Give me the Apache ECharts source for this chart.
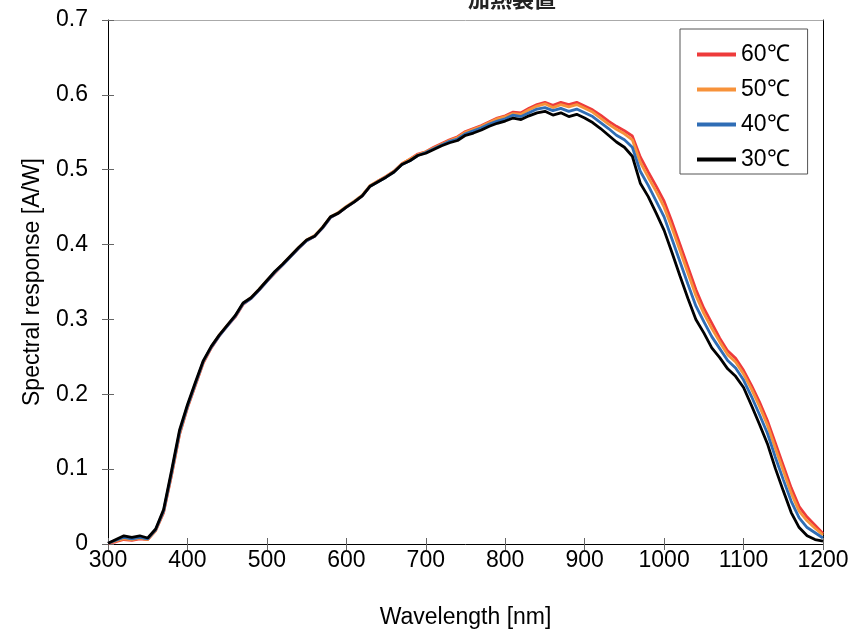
<!DOCTYPE html>
<html>
<head>
<meta charset="utf-8">
<script src="https://cdn.jsdelivr.net/npm/echarts@6/dist/echarts.min.js"></script>
<style>html,body{margin:0;padding:0;background:#fff}#c{width:860px;height:632px}</style>
</head>
<body>
<div id="c"></div>
<script>
var wavelengths = [300,310,320,330,340,350,360,370,380,390,400,410,420,430,440,450,460,470,480,490,500,510,520,530,540,550,560,570,580,590,600,610,620,630,640,650,660,670,680,690,700,710,720,730,740,750,760,770,780,790,800,810,820,830,840,850,860,870,880,890,900,910,920,930,940,950,960,970,980,990,1000,1010,1020,1030,1040,1050,1060,1070,1080,1090,1100,1110,1120,1130,1140,1150,1160,1170,1180,1190,1200];

var s60 = [0.001,0.003,0.006,0.005,0.007,0.006,0.018,0.042,0.092,0.146,0.182,0.212,0.242,0.262,0.278,0.291,0.303,0.320,0.328,0.339,0.351,0.362,0.373,0.384,0.395,0.405,0.411,0.422,0.436,0.442,0.450,0.457,0.465,0.478,0.485,0.491,0.498,0.508,0.514,0.521,0.524,0.530,0.535,0.540,0.544,0.551,0.555,0.559,0.564,0.569,0.572,0.577,0.576,0.582,0.587,0.590,0.586,0.590,0.587,0.590,0.585,0.580,0.573,0.565,0.558,0.552,0.545,0.517,0.497,0.478,0.458,0.430,0.400,0.370,0.340,0.315,0.295,0.275,0.258,0.248,0.232,0.212,0.190,0.165,0.135,0.105,0.075,0.050,0.036,0.025,0.014];

var s50 = [0.001,0.004,0.007,0.006,0.008,0.006,0.018,0.043,0.093,0.147,0.183,0.213,0.243,0.263,0.279,0.292,0.304,0.321,0.329,0.340,0.352,0.363,0.374,0.385,0.396,0.406,0.412,0.423,0.437,0.443,0.451,0.458,0.466,0.479,0.485,0.491,0.498,0.508,0.514,0.520,0.524,0.529,0.534,0.539,0.543,0.550,0.554,0.558,0.563,0.568,0.571,0.575,0.574,0.580,0.585,0.588,0.583,0.587,0.584,0.587,0.582,0.577,0.569,0.561,0.554,0.548,0.540,0.510,0.490,0.471,0.450,0.422,0.392,0.362,0.332,0.308,0.288,0.270,0.253,0.243,0.227,0.207,0.184,0.159,0.128,0.098,0.068,0.044,0.031,0.021,0.012];

var s40 = [0.001,0.005,0.009,0.007,0.009,0.007,0.019,0.044,0.095,0.149,0.184,0.214,0.244,0.263,0.278,0.291,0.304,0.321,0.328,0.339,0.351,0.363,0.373,0.384,0.395,0.405,0.411,0.422,0.436,0.442,0.450,0.457,0.465,0.478,0.484,0.490,0.497,0.507,0.512,0.519,0.523,0.528,0.533,0.538,0.541,0.548,0.552,0.556,0.561,0.565,0.568,0.573,0.571,0.576,0.581,0.583,0.579,0.582,0.578,0.581,0.576,0.571,0.563,0.555,0.546,0.540,0.530,0.498,0.479,0.458,0.437,0.407,0.377,0.347,0.318,0.297,0.277,0.261,0.245,0.235,0.219,0.197,0.173,0.148,0.116,0.086,0.057,0.035,0.022,0.015,0.008];

var s30 = [0.001,0.006,0.011,0.009,0.011,0.008,0.020,0.046,0.098,0.152,0.186,0.216,0.245,0.264,0.279,0.292,0.305,0.322,0.329,0.340,0.352,0.364,0.374,0.385,0.396,0.406,0.411,0.423,0.437,0.442,0.450,0.457,0.465,0.478,0.484,0.490,0.497,0.507,0.512,0.519,0.522,0.527,0.532,0.536,0.539,0.546,0.549,0.553,0.558,0.562,0.565,0.569,0.567,0.572,0.576,0.578,0.573,0.576,0.571,0.574,0.569,0.563,0.555,0.546,0.537,0.530,0.518,0.482,0.464,0.442,0.419,0.389,0.358,0.328,0.300,0.282,0.262,0.249,0.234,0.224,0.209,0.185,0.160,0.134,0.101,0.071,0.042,0.022,0.011,0.006,0.004];

var seriesNames = ['60\u2103','50\u2103','40\u2103','30\u2103'];
var seriesColors = ['#ee3b3b','#f7923a','#2f6db5','#000000'];
var seriesValues = [s60, s50, s40, s30];

var FONT = 'Liberation Sans, Arial, sans-serif';
var FS = 23;

function pairs(vals){ return wavelengths.map(function(w,i){ return [w, vals[i]]; }); }

var chart = echarts.init(document.getElementById('c'), null, {renderer:'canvas'});
chart.setOption({
  animation: false,
  backgroundColor: '#fff',
  title: {
    text: '加熱装置', left: 507, top: -17, textAlign: 'center',
    textStyle: {fontSize: 22, fontWeight: 'bold', color: '#222', fontFamily: 'Noto Sans CJK JP, sans-serif'}
  },
  legend: {
    orient: 'vertical', left: 680, top: 29,
    padding: [14, 18, 3, 17],
    itemGap: 12, itemWidth: 39, itemHeight: 4, icon: 'rect',
    backgroundColor: '#fff', borderColor: '#555', borderWidth: 1, borderRadius: 0,
    textStyle: {fontSize: FS, color: '#000', fontFamily: FONT, padding: [0,0,0,0]},
    data: seriesNames
  },
  grid: {left: 108, right: 37, top: 20, bottom: 88, containLabel: false, outerBoundsMode: 'none'},
  xAxis: [{
    type: 'value', min: 300, max: 1200, interval: 100, position: 'bottom',
    name: 'Wavelength [nm]', nameLocation: 'middle', nameGap: 62,
    nameTextStyle: {fontSize: FS, color: '#000', fontFamily: FONT},
    axisLine: {show: true, onZero: false, lineStyle: {color: '#000', width: 1}},
    axisTick: {show: true, length: 6, lineStyle: {color: '#666', width: 1}},
    axisLabel: {fontSize: FS, color: '#000', fontFamily: FONT, margin: 5,
      formatter: function(v){ return String(v); }},
    splitLine: {show: false}
  },{
    type: 'value', min: 300, max: 1200, interval: 100, position: 'bottom', offset: 0,
    axisLine: {show: false, onZero: false},
    axisTick: {show: true, inside: true, length: 6, lineStyle: {color: '#666', width: 1}},
    axisLabel: {show: false}, splitLine: {show: false}
  },{
    type: 'value', min: 300, max: 1200, position: 'top',
    axisLine: {show: true, onZero: false, lineStyle: {color: '#aaa', width: 1}},
    axisTick: {show: false}, axisLabel: {show: false}, splitLine: {show: false}
  }],
  yAxis: [{
    type: 'value', min: 0, max: 0.7, interval: 0.1, position: 'left',
    name: 'Spectral response [A/W]', nameLocation: 'middle', nameGap: 64,
    nameTextStyle: {fontSize: FS, color: '#000', fontFamily: FONT},
    axisLine: {show: true, onZero: false, lineStyle: {color: '#000', width: 1}},
    axisTick: {show: true, length: 6, lineStyle: {color: '#666', width: 1}},
    axisLabel: {fontSize: FS, color: '#000', fontFamily: FONT, margin: 20,
      formatter: function(v){ return v === 0 ? '0' : v.toFixed(1); }},
    splitLine: {show: false}
  },{
    type: 'value', min: 0, max: 0.7, interval: 0.1, position: 'left', offset: 0,
    axisLine: {show: false, onZero: false},
    axisTick: {show: true, inside: true, length: 6, lineStyle: {color: '#666', width: 1}},
    axisLabel: {show: false}, splitLine: {show: false}
  },{
    type: 'value', min: 0, max: 0.7, position: 'right',
    axisLine: {show: true, onZero: false, lineStyle: {color: '#000', width: 1}},
    axisTick: {show: false}, axisLabel: {show: false}, splitLine: {show: false}
  }],
  series: seriesNames.map(function(n, i){
    return {
      name: n, type: 'line', xAxisIndex: 0, yAxisIndex: 0,
      data: pairs(seriesValues[i]),
      showSymbol: false, symbol: 'none',
      lineStyle: {color: seriesColors[i], width: 2.8},
      itemStyle: {color: seriesColors[i]},
      z: 2 + i
    };
  })
});
</script>
</body>
</html>
